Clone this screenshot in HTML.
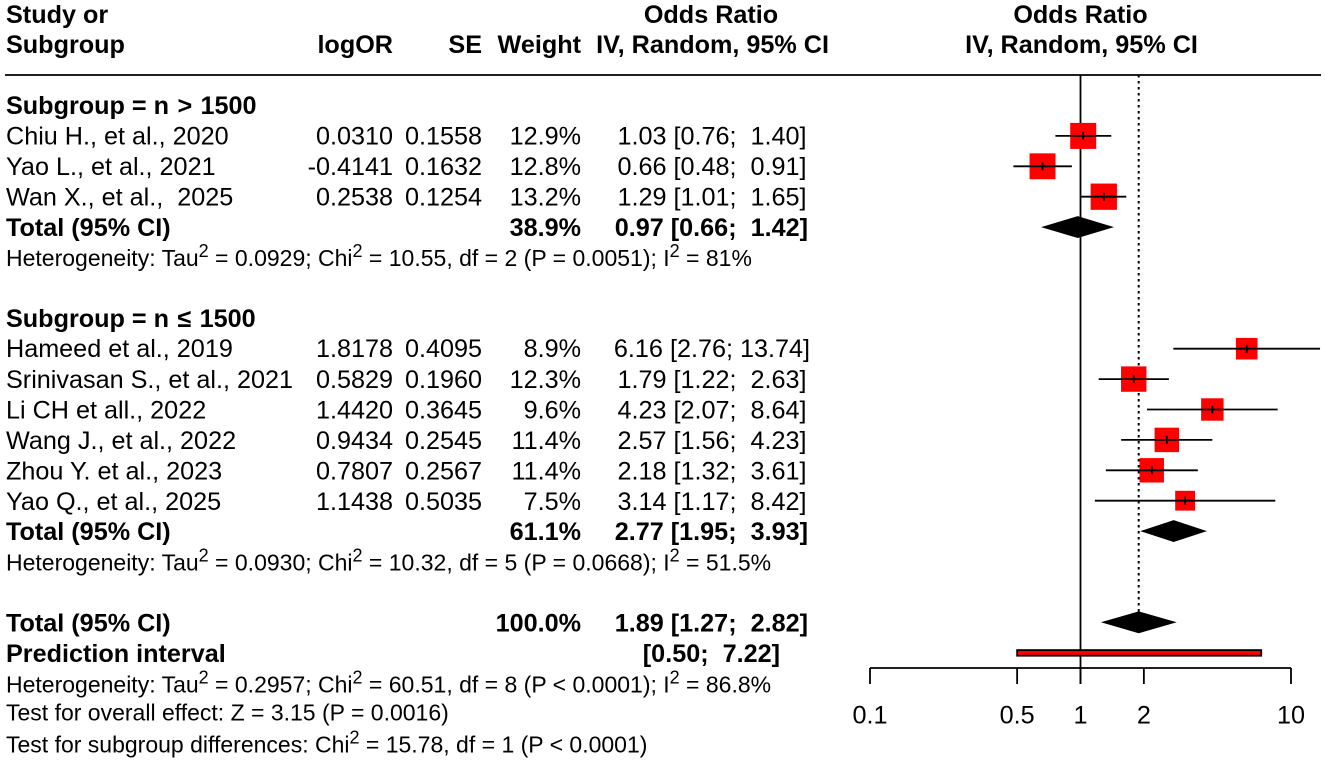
<!DOCTYPE html>
<html lang="en">
<head>
<meta charset="utf-8">
<title>Forest plot</title>
<style>
html,body{margin:0;padding:0;background:#fff;width:1325px;height:763px;overflow:hidden}
svg{display:block}
text{font-family:"Liberation Sans",Arial,sans-serif;fill:#000;white-space:pre}
.m{font-size:25.2px}
.b{font-size:25.2px;font-weight:bold}
.s{font-size:23px}
.e{text-anchor:end}
.c{text-anchor:middle}
.sup{font-size:18px}
</style>
</head>
<body>
<svg id="plot" xmlns="http://www.w3.org/2000/svg" width="1325" height="763" viewBox="0 0 1325 763">
<rect x="0" y="0" width="1325" height="763" fill="#fff"/>
<g>
<text class="b" x="6" y="23">Study or</text>
<text class="b" x="6" y="53">Subgroup</text>
<text class="b e" x="393" y="53">logOR</text>
<text class="b e" x="482" y="53">SE</text>
<text class="b e" x="581" y="53">Weight</text>
<text class="b c" x="711" y="23">Odds Ratio</text>
<text class="b e" x="829" y="53">IV, Random, 95% CI</text>
<text class="b c" x="1080.5" y="23">Odds Ratio</text>
<text class="b c" x="1081.5" y="53">IV, Random, 95% CI</text>
</g>
<line x1="5" x2="1321" y1="75" y2="75" stroke="#000" stroke-width="1.8"/>

<g>
<text class="b" x="6" y="114">Subgroup = n <tspan dx="1.5">&gt;</tspan><tspan dx="1.3"> 1500</tspan></text>
<text class="m" x="6" y="144.5">Chiu H., et al., 2020</text>
<text class="m e" x="393" y="144.5">0.0310</text><text class="m e" x="482" y="144.5">0.1558</text><text class="m e" x="581" y="144.5">12.9%</text><text class="m e" x="806.5" y="144.5">1.03 [0.76;  1.40]</text>
<text class="m" x="6" y="175">Yao L., et al., 2021</text>
<text class="m e" x="393" y="175">-0.4141</text><text class="m e" x="482" y="175">0.1632</text><text class="m e" x="581" y="175">12.8%</text><text class="m e" x="806.5" y="175">0.66 [0.48;  0.91]</text>
<text class="m" x="6" y="205.5">Wan X., et al.,  2025</text>
<text class="m e" x="393" y="205.5">0.2538</text><text class="m e" x="482" y="205.5">0.1254</text><text class="m e" x="581" y="205.5">13.2%</text><text class="m e" x="806.5" y="205.5">1.29 [1.01;  1.65]</text>
<text class="b" x="6" y="236">Total (95% CI)</text>
<text class="b e" x="581" y="236">38.9%</text><text class="b e" x="808" y="236">0.97 [0.66;  1.42]</text>
<text class="s" x="6" y="266">Heterogeneity: Tau<tspan class="sup" dy="-9">2</tspan><tspan dy="9"> = 0.0929; Chi</tspan><tspan class="sup" dy="-9">2</tspan><tspan dy="9"> = 10.55, df = 2 (P = 0.0051); I</tspan><tspan class="sup" dy="-9">2</tspan><tspan dy="9"> = 81%</tspan></text>
</g>

<g>
<text class="b" x="6" y="327">Subgroup = n <tspan dx="1.5">≤</tspan><tspan dx="1.3"> 1500</tspan></text>
<text class="m" x="6" y="357">Hameed et al., 2019</text>
<text class="m e" x="393" y="357">1.8178</text><text class="m e" x="482" y="357">0.4095</text><text class="m e" x="581" y="357">8.9%</text><text class="m e" x="810" y="357">6.16 [2.76; 13.74]</text>
<text class="m" x="6" y="388">Srinivasan S., et al., 2021</text>
<text class="m e" x="393" y="388">0.5829</text><text class="m e" x="482" y="388">0.1960</text><text class="m e" x="581" y="388">12.3%</text><text class="m e" x="806.5" y="388">1.79 [1.22;  2.63]</text>
<text class="m" x="6" y="418.5">Li CH et all., 2022</text>
<text class="m e" x="393" y="418.5">1.4420</text><text class="m e" x="482" y="418.5">0.3645</text><text class="m e" x="581" y="418.5">9.6%</text><text class="m e" x="806.5" y="418.5">4.23 [2.07;  8.64]</text>
<text class="m" x="6" y="449">Wang J., et al., 2022</text>
<text class="m e" x="393" y="449">0.9434</text><text class="m e" x="482" y="449">0.2545</text><text class="m e" x="581" y="449">11.4%</text><text class="m e" x="806.5" y="449">2.57 [1.56;  4.23]</text>
<text class="m" x="6" y="479.5">Zhou Y. et al., 2023</text>
<text class="m e" x="393" y="479.5">0.7807</text><text class="m e" x="482" y="479.5">0.2567</text><text class="m e" x="581" y="479.5">11.4%</text><text class="m e" x="806.5" y="479.5">2.18 [1.32;  3.61]</text>
<text class="m" x="6" y="510">Yao Q., et al., 2025</text>
<text class="m e" x="393" y="510">1.1438</text><text class="m e" x="482" y="510">0.5035</text><text class="m e" x="581" y="510">7.5%</text><text class="m e" x="806.5" y="510">3.14 [1.17;  8.42]</text>
<text class="b" x="6" y="540">Total (95% CI)</text>
<text class="b e" x="581" y="540">61.1%</text><text class="b e" x="808" y="540">2.77 [1.95;  3.93]</text>
<text class="s" x="6" y="570.5">Heterogeneity: Tau<tspan class="sup" dy="-9">2</tspan><tspan dy="9"> = 0.0930; Chi</tspan><tspan class="sup" dy="-9">2</tspan><tspan dy="9"> = 10.32, df = 5 (P = 0.0668); I</tspan><tspan class="sup" dy="-9">2</tspan><tspan dy="9"> = 51.5%</tspan></text>
</g>

<g>
<text class="b" x="6" y="631.5">Total (95% CI)</text>
<text class="b e" x="581" y="631.5">100.0%</text><text class="b e" x="808" y="631.5">1.89 [1.27;  2.82]</text>
<text class="b" x="6" y="662">Prediction interval</text>
<text class="b e" x="780" y="662">[0.50;  7.22]</text>
<text class="s" x="6" y="692.5">Heterogeneity: Tau<tspan class="sup" dy="-9">2</tspan><tspan dy="9"> = 0.2957; Chi</tspan><tspan class="sup" dy="-9">2</tspan><tspan dy="9"> = 60.51, df = 8 (P &lt; 0.0001); I</tspan><tspan class="sup" dy="-9">2</tspan><tspan dy="9"> = 86.8%</tspan></text>
<text class="s" x="6" y="720.5">Test for overall effect: Z = 3.15 (P = 0.0016)</text>
<text class="s" x="6" y="752.5">Test for subgroup differences: Chi<tspan class="sup" dy="-9">2</tspan><tspan dy="9"> = 15.78, df = 1 (P &lt; 0.0001)</tspan></text>
</g>
<g id="marks"></g>
</svg>
<script>
// Study rows, in plot order
const groupLargeOR = [1.03, 0.66, 1.29];
const groupLargeLower = [0.76, 0.48, 1.01];
const groupLargeUpper = [1.40, 0.91, 1.65];
const groupLargeWeight = [12.9, 12.8, 13.2];
const groupLargeNames = ['chiu', 'yao-l', 'wan'];

const groupSmallOR = [6.16, 1.79, 4.23, 2.57, 2.18, 3.14];
const groupSmallLower = [2.76, 1.22, 2.07, 1.56, 1.32, 1.17];
const groupSmallUpper = [13.74, 2.63, 8.64, 4.23, 3.61, 8.42];
const groupSmallWeight = [8.9, 12.3, 9.6, 11.4, 11.4, 7.5];
const groupSmallNames = ['hameed', 'srinivasan', 'li', 'wang', 'zhou', 'yao-q'];

// Pooled estimates: [OR, lower, upper]
const pooledLarge = [0.97, 0.66, 1.42];
const pooledSmall = [2.77, 1.95, 3.93];
const pooledOverall = [1.89, 1.27, 2.82];
const predictionInterval = [0.50, 7.22];

const axisTicks = [0.1, 0.5, 1, 2, 10];
const axisTickLabels = ['0.1', '0.5', '1', '2', '10'];

const NS = 'http://www.w3.org/2000/svg';
const layer = document.getElementById('marks');
const xScale = v => 1080.5 + 210.5 * Math.log10(v);
const rowY = r => 14.3 + 30.4 * r;
const boxSize = w => 7.24 * Math.sqrt(w);

function make(tag, attrs) {
  const el = document.createElementNS(NS, tag);
  for (const k in attrs) el.setAttribute(k, attrs[k]);
  layer.appendChild(el);
  return el;
}

// Reference lines
const nullLine = make('line', {x1: xScale(1), x2: xScale(1), y1: 75, y2: 684, stroke: '#000', 'stroke-width': 1.8});


const pooledLine = make('line', {x1: xScale(pooledOverall[0]), x2: xScale(pooledOverall[0]), y1: 75, y2: rowY(20) - 10, stroke: '#000', 'stroke-width': 2, 'stroke-dasharray': '2.5 3.5'});



function drawStudy(or, lo, hi, wt, name, row) {
  const y = rowY(row);
  const s = boxSize(wt);
  const x = xScale(or);
  const box = make('rect', {x: x - s / 2, y: y - s / 2, width: s, height: s, fill: '#ff0000'});
  
  
  const ci = make('line', {x1: xScale(lo), x2: xScale(hi), y1: y, y2: y, stroke: '#000', 'stroke-width': 1.8});
  
  
  const tick = make('line', {x1: x, x2: x, y1: y - 4, y2: y + 4, stroke: '#000', 'stroke-width': 1.8});
  
  
}

function drawDiamond(vals, row, name) {
  const y = rowY(row);
  const d = make('polygon', {
    points: [
      [xScale(vals[1]), y], [xScale(vals[0]), y - 10.5],
      [xScale(vals[2]), y], [xScale(vals[0]), y + 10.5]
    ].map(p => p.join(',')).join(' '),
    fill: '#000', stroke: '#000', 'stroke-width': 0.8
  });
  
  
}

groupLargeOR.forEach((v, i) => drawStudy(v, groupLargeLower[i], groupLargeUpper[i], groupLargeWeight[i], groupLargeNames[i], 4 + i));
groupSmallOR.forEach((v, i) => drawStudy(v, groupSmallLower[i], groupSmallUpper[i], groupSmallWeight[i], groupSmallNames[i], 11 + i));
drawDiamond(pooledLarge, 7, 'pooled-diamond-large');
drawDiamond(pooledSmall, 17, 'pooled-diamond-small');
drawDiamond(pooledOverall, 20, 'pooled-diamond-overall');

// Prediction interval
const piBar = make('rect', {
  x: xScale(predictionInterval[0]), y: rowY(21) - 2.6,
  width: xScale(predictionInterval[1]) - xScale(predictionInterval[0]), height: 5.6,
  fill: '#ff0000', stroke: '#000', 'stroke-width': 1.8
});



// Axis
const axisLine = make('line', {x1: xScale(axisTicks[0]), x2: xScale(axisTicks[axisTicks.length - 1]), y1: 668, y2: 668, stroke: '#000', 'stroke-width': 1.8});


axisTicks.forEach((t, i) => {
  const tk = make('line', {x1: xScale(t), x2: xScale(t), y1: 668, y2: 684, stroke: '#000', 'stroke-width': 1.8});
  
  
  const lb = make('text', {x: xScale(t), y: 723.5, class: 'm c'});
  lb.textContent = axisTickLabels[i];
  
  
});
</script>
</body>
</html>
